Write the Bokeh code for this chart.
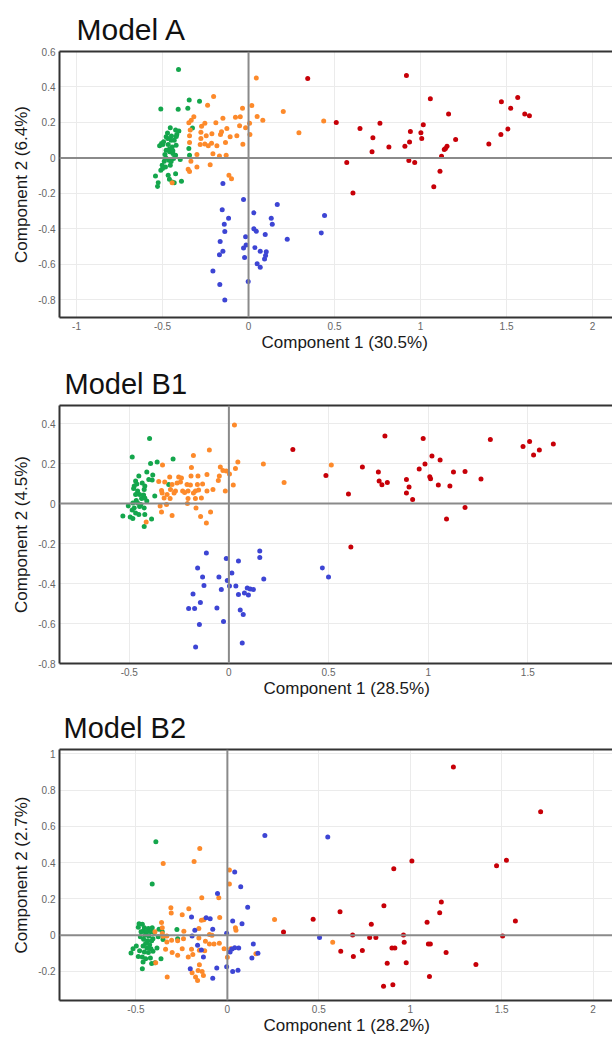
from bokeh.plotting import figure
from bokeh.models import Span, Title, LinearAxis, FixedTicker, ColumnDataSource
from bokeh.layouts import column
from bokeh.embed import file_html
from bokeh.resources import INLINE

# ---------------- data ----------------
groups = ["Group 1", "Group 2", "Group 3", "Group 4"]
group_colors = ["#14a64c", "#fd8a2b", "#3d45d4", "#c70008"]

a_green = [(-0.407,0.499),(-0.510,0.276),(-0.345,0.327),(-0.285,0.319),(-0.409,0.274),(-0.353,0.280),(-0.326,0.168),(-0.455,0.170),(-0.424,0.157),(-0.405,0.151),(-0.471,0.140),(-0.479,0.119),(-0.448,0.123),(-0.494,0.091),(-0.506,0.081),(-0.432,0.100),(-0.467,0.076),(-0.444,0.062),(-0.421,0.072),(-0.479,0.043),(-0.459,0.034),(-0.440,0.025),(-0.424,0.015),(-0.347,0.053),(-0.343,0.015),(-0.397,-0.009),(-0.490,-0.019),(-0.463,-0.013),(-0.436,-0.004),(-0.502,-0.042),(-0.455,-0.042),(-0.510,-0.070),(-0.483,-0.051),(-0.541,-0.102),(-0.467,-0.098),(-0.424,-0.089),(-0.525,-0.140),(-0.529,-0.161),(-0.432,-0.140),(-0.390,-0.132),(-0.444,-0.136),(-0.498,0.076),(-0.417,0.132),(-0.486,0.019),(-0.517,0.068),(-0.46,0.05),(-0.45,0.10),(-0.47,0.11),(-0.44,0.04),(-0.48,0.00),(-0.45,-0.02),(-0.42,0.12),(-0.50,-0.06),(-0.46,-0.12)]
a_orange = [(0.045,0.451),(-0.203,0.346),(-0.238,0.297),(-0.035,0.280),(0.019,0.295),(-0.318,0.232),(-0.333,0.213),(-0.076,0.229),(-0.048,0.232),(0.050,0.234),(0.083,0.213),(0.202,0.261),(-0.347,0.198),(-0.273,0.179),(-0.254,0.195),(-0.190,0.198),(-0.149,0.223),(-0.126,0.166),(-0.052,0.181),(-0.017,0.170),(0.006,0.195),(-0.339,0.157),(-0.277,0.144),(-0.246,0.125),(-0.213,0.136),(-0.163,0.132),(-0.157,0.147),(-0.107,0.119),(-0.068,0.125),(0.008,0.132),(-0.343,0.125),(-0.277,0.110),(-0.281,0.076),(-0.254,0.079),(-0.234,0.068),(-0.215,0.083),(-0.184,0.068),(-0.134,0.087),(-0.033,0.077),(-0.343,0.087),(-0.300,0.019),(-0.207,0.023),(-0.169,0.011),(-0.130,0.015),(-0.335,-0.019),(-0.300,-0.051),(-0.223,-0.038),(-0.351,-0.064),(-0.343,-0.076),(-0.114,-0.098),(-0.099,-0.117),(-0.444,-0.140),(0.293,0.142),(0.437,0.208)]
a_blue = [(-0.149,-0.145),(-0.029,-0.234),(0.167,-0.263),(-0.153,-0.293),(0.031,-0.310),(-0.116,-0.340),(0.132,-0.340),(-0.141,-0.374),(0.138,-0.374),(0.031,-0.400),(0.045,-0.414),(-0.138,-0.415),(0.097,-0.432),(-0.017,-0.444),(0.225,-0.459),(-0.165,-0.472),(-0.014,-0.491),(-0.029,-0.508),(0.037,-0.506),(0.068,-0.527),(0.103,-0.529),(-0.149,-0.527),(-0.169,-0.546),(-0.023,-0.561),(0.099,-0.551),(0.093,-0.570),(0.050,-0.597),(0.068,-0.616),(-0.207,-0.638),(-0.002,-0.697),(-0.167,-0.714),(-0.138,-0.801),(0.442,-0.325),(0.423,-0.423)]
a_red = [(0.344,0.448),(0.918,0.465),(1.057,0.334),(1.470,0.317),(1.565,0.340),(1.524,0.280),(1.163,0.248),(1.606,0.248),(1.633,0.238),(0.510,0.200),(0.764,0.195),(0.648,0.166),(1.016,0.187),(0.941,0.149),(1.002,0.142),(1.508,0.163),(0.723,0.113),(1.007,0.110),(1.204,0.104),(1.467,0.132),(1.397,0.079),(0.936,0.089),(0.816,0.061),(0.909,0.065),(1.154,0.066),(1.145,0.053),(1.138,0.048),(0.718,0.034),(1.122,0.010),(0.571,-0.026),(0.932,-0.015),(0.966,-0.026),(1.113,-0.075),(1.077,-0.162),(0.607,-0.198)]

b1_green = [(-0.398,0.325),(-0.485,0.232),(-0.280,0.223),(-0.393,0.200),(-0.360,0.208),(-0.412,0.157),(-0.382,0.142),(-0.452,0.137),(-0.385,0.117),(-0.468,0.112),(-0.462,0.098),(-0.475,0.087),(-0.478,0.075),(-0.435,0.103),(-0.422,0.087),(-0.425,0.070),(-0.458,0.062),(-0.468,0.045),(-0.448,0.045),(-0.428,0.042),(-0.438,0.025),(-0.422,0.028),(-0.412,0.012),(-0.465,0.015),(-0.482,0.003),(-0.458,0.002),(-0.442,-0.005),(-0.505,-0.013),(-0.475,-0.022),(-0.448,-0.015),(-0.425,-0.022),(-0.485,-0.032),(-0.468,-0.047),(-0.452,-0.055),(-0.532,-0.063),(-0.495,-0.068),(-0.482,-0.075),(-0.422,-0.055),(-0.388,-0.077),(-0.425,-0.115),(-0.302,0.095),(-0.372,0.037),(-0.402,0.120)]
b1_orange = [(0.028,0.393),(-0.098,0.267),(-0.178,0.240),(-0.333,0.193),(-0.188,0.180),(-0.110,0.145),(-0.043,0.182),(-0.030,0.165),(-0.013,0.162),(0.003,0.148),(0.045,0.208),(0.033,0.175),(0.173,0.198),(0.277,0.105),(-0.048,0.137),(-0.053,0.115),(0.022,0.092),(-0.018,0.062),(-0.190,0.137),(-0.155,0.137),(-0.252,0.132),(-0.238,0.128),(-0.297,0.132),(-0.352,0.110),(-0.322,0.107),(-0.285,0.095),(-0.260,0.103),(-0.243,0.108),(-0.210,0.095),(-0.193,0.092),(-0.158,0.095),(-0.132,0.098),(-0.110,0.062),(-0.080,0.070),(-0.152,0.067),(-0.168,0.062),(-0.205,0.062),(-0.232,0.062),(-0.268,0.062),(-0.293,0.070),(-0.338,0.065),(-0.335,0.053),(-0.310,0.045),(-0.275,0.052),(-0.222,0.055),(-0.178,0.053),(-0.205,0.025),(-0.168,0.025),(-0.138,0.028),(-0.295,0.025),(-0.325,0.028),(-0.345,-0.013),(-0.313,-0.005),(-0.208,0.000),(-0.165,-0.023),(-0.092,-0.042),(-0.338,-0.042),(-0.285,-0.060),(-0.142,-0.065),(-0.113,-0.098),(-0.415,-0.092),(0.514,0.192)]
b1_blue = [(-0.113,-0.248),(0.155,-0.237),(-0.013,-0.275),(0.048,-0.288),(0.155,-0.270),(-0.157,-0.322),(0.015,-0.348),(-0.132,-0.368),(-0.050,-0.368),(0.175,-0.378),(-0.008,-0.385),(-0.125,-0.410),(0.003,-0.413),(0.035,-0.413),(0.092,-0.422),(0.107,-0.428),(0.123,-0.430),(-0.180,-0.452),(-0.038,-0.430),(0.048,-0.455),(0.078,-0.447),(0.098,-0.458),(-0.143,-0.495),(-0.202,-0.525),(-0.172,-0.525),(-0.060,-0.522),(0.057,-0.533),(0.072,-0.555),(-0.027,-0.590),(-0.148,-0.605),(0.067,-0.697),(-0.167,-0.718),(0.469,-0.322),(0.500,-0.368)]
b1_red = [(0.321,0.270),(0.783,0.337),(0.975,0.325),(1.312,0.320),(1.509,0.310),(1.476,0.285),(1.558,0.267),(1.628,0.298),(1.529,0.243),(1.019,0.238),(1.060,0.218),(0.984,0.198),(0.955,0.173),(0.670,0.182),(0.750,0.158),(0.487,0.140),(1.127,0.157),(1.185,0.160),(1.265,0.122),(1.008,0.134),(1.012,0.124),(0.891,0.120),(0.754,0.113),(0.795,0.105),(0.768,0.094),(1.051,0.092),(1.109,0.087),(0.904,0.083),(0.891,0.053),(0.600,0.048),(0.922,0.020),(1.185,-0.020),(1.092,-0.078),(0.612,-0.217)]

b2_green = [(-0.391,0.515),(-0.411,0.283),(-0.483,0.063),(-0.465,0.061),(-0.487,0.044),(-0.454,0.041),(-0.432,0.037),(-0.411,0.041),(-0.374,0.033),(-0.356,0.019),(-0.276,0.031),(-0.461,0.022),(-0.440,0.019),(-0.418,0.019),(-0.400,0.015),(-0.450,0.000),(-0.429,-0.004),(-0.476,-0.009),(-0.407,-0.019),(-0.378,-0.009),(-0.458,-0.022),(-0.436,-0.030),(-0.414,-0.030),(-0.352,-0.024),(-0.447,-0.046),(-0.425,-0.052),(-0.498,-0.059),(-0.461,-0.059),(-0.440,-0.070),(-0.418,-0.074),(-0.385,-0.070),(-0.516,-0.074),(-0.480,-0.085),(-0.454,-0.093),(-0.432,-0.096),(-0.407,-0.089),(-0.527,-0.098),(-0.487,-0.117),(-0.465,-0.120),(-0.447,-0.130),(-0.421,-0.126),(-0.363,-0.130),(-0.396,-0.152),(-0.461,-0.148),(-0.414,-0.156),(-0.465,-0.185),(-0.272,-0.019),(-0.472,0.019)]
b2_orange = [(-0.151,0.478),(-0.351,0.396),(-0.182,0.406),(0.011,0.359),(0.011,0.283),(-0.140,0.207),(-0.047,0.206),(-0.309,0.152),(-0.211,0.146),(-0.307,0.122),(-0.247,0.113),(-0.142,0.083),(-0.129,0.085),(-0.360,0.070),(-0.042,0.098),(-0.356,0.041),(-0.396,0.019),(-0.238,0.022),(-0.156,0.037),(0.044,0.041),(0.047,0.028),(0.258,0.087),(-0.305,-0.028),(-0.331,-0.037),(-0.272,-0.031),(-0.240,-0.019),(-0.156,-0.015),(-0.098,0.004),(-0.084,0.000),(-0.120,-0.033),(-0.098,-0.048),(-0.073,-0.048),(-0.044,-0.044),(-0.018,-0.074),(0.018,-0.074),(-0.338,-0.078),(-0.302,-0.096),(-0.272,-0.111),(-0.247,-0.074),(-0.196,-0.078),(-0.153,-0.083),(-0.214,-0.120),(-0.189,-0.107),(-0.124,-0.085),(0.000,-0.122),(0.156,-0.102),(-0.153,-0.163),(-0.160,-0.194),(-0.193,-0.207),(-0.174,-0.231),(-0.163,-0.250),(-0.138,-0.200),(-0.131,-0.222),(-0.392,-0.152),(-0.329,-0.231),(-0.356,0.009),(-0.352,-0.006),(-0.331,-0.004),(0.576,-0.039)]
b2_blue = [(0.205,0.550),(0.040,0.348),(0.073,0.267),(-0.054,0.230),(0.111,0.154),(-0.196,0.100),(-0.116,0.096),(-0.094,0.091),(0.029,0.078),(0.080,0.063),(-0.080,0.033),(-0.178,0.028),(-0.193,-0.004),(-0.004,0.011),(-0.163,-0.056),(-0.142,-0.081),(-0.131,-0.120),(0.025,-0.076),(0.040,-0.069),(0.062,-0.070),(0.015,-0.093),(0.142,-0.048),(0.167,-0.100),(0.134,-0.126),(-0.004,-0.174),(0.029,-0.200),(0.058,-0.193),(-0.058,-0.181),(-0.080,-0.237),(-0.203,-0.185),(0.549,0.541),(0.504,-0.013)]
b2_red = [(1.236,0.927),(1.713,0.681),(1.009,0.409),(1.526,0.414),(1.472,0.383),(0.910,0.366),(1.170,0.183),(1.161,0.124),(0.856,0.162),(1.575,0.079),(1.092,0.072),(0.469,0.088),(0.616,0.129),(0.307,0.018),(0.787,0.061),(0.685,0.001),(0.778,-0.012),(0.812,-0.012),(0.963,0.001),(1.505,-0.004),(0.967,-0.039),(1.099,-0.049),(1.110,-0.049),(0.620,-0.088),(0.738,-0.084),(0.689,-0.117),(0.900,-0.071),(0.916,-0.071),(1.196,-0.095),(0.874,-0.154),(0.978,-0.152),(1.359,-0.162),(1.105,-0.228),(0.854,-0.282),(0.905,-0.273)]

a_xticks = [-1, -0.5, 0, 0.5, 1, 1.5, 2]
a_yticks = [-0.8, -0.6, -0.4, -0.2, 0, 0.2, 0.4, 0.6]
b1_xticks = [-0.5, 0, 0.5, 1, 1.5]
b1_yticks = [-0.8, -0.6, -0.4, -0.2, 0, 0.2, 0.4]
b2_xticks = [-0.5, 0, 0.5, 1, 1.5, 2]
b2_yticks = [-0.2, 0, 0.2, 0.4, 0.6, 0.8, 1]

FONT = "Liberation Sans"


def lbl(v):
    return "%g" % v


def panel(title, title_size, title_offset, xlabel, xlabel_offset, ylabel, xr, yr,
          xticks, yticks, height, b_top, b_bottom, b_left, data):
    p = figure(width=612, height=height, x_range=xr, y_range=yr,
               output_backend="svg", toolbar_location=None,
               min_border_left=b_left, min_border_right=0,
               min_border_top=b_top, min_border_bottom=b_bottom)
    p.outline_line_color = None
    p.background_fill_color = "white"
    p.border_fill_color = "white"

    p.title.text = title
    p.title.text_font = FONT
    p.title.text_font_size = title_size
    p.title.text_font_style = "normal"
    p.title.text_color = "#111111"
    p.title.align = "left"
    p.title.offset = title_offset
    p.title.standoff = 11

    xa = p.xaxis[0]
    ya = p.yaxis[0]
    for ax, ticks in ((xa, xticks), (ya, yticks)):
        ax.ticker = FixedTicker(ticks=ticks)
        ax.major_label_overrides = {t: lbl(t) for t in ticks}
        ax.major_tick_line_color = None
        ax.minor_tick_line_color = None
        ax.major_tick_out = 0
        ax.major_tick_in = 0
        ax.major_label_standoff = 4
        ax.major_label_text_font = FONT
        ax.major_label_text_font_size = "10px"
        ax.major_label_text_color = "#666666"
        ax.axis_line_color = "#333333"
        ax.axis_line_width = 2
    ya.axis_label = ylabel
    ya.axis_label_text_font = FONT
    ya.axis_label_text_font_size = "17px"
    ya.axis_label_text_font_style = "normal"
    ya.axis_label_text_color = "#1a1a1a"
    ya.axis_label_standoff = 4

    p.xgrid.ticker = FixedTicker(ticks=xticks)
    p.ygrid.ticker = FixedTicker(ticks=yticks)
    p.xgrid.grid_line_color = "#ebebeb"
    p.ygrid.grid_line_color = "#ebebeb"

    top = LinearAxis(ticker=FixedTicker(ticks=[]), major_label_text_font_size="0px",
                     major_tick_line_color=None, minor_tick_line_color=None,
                     major_tick_out=0, major_tick_in=0, major_label_standoff=0,
                     axis_line_color="#333333", axis_line_width=2)
    p.add_layout(top, "above")

    xt = Title(text=xlabel, align="left", offset=xlabel_offset, text_font=FONT,
               text_font_size="17px", text_font_style="normal", text_color="#1a1a1a",
               standoff=-3)
    p.add_layout(xt, "below")

    p.add_layout(Span(location=0, dimension="height", line_color="#8a8a8a", line_width=2))
    p.add_layout(Span(location=0, dimension="width", line_color="#8a8a8a", line_width=2))

    for pts, color in zip(data, group_colors):
        src = ColumnDataSource(dict(x=[q[0] for q in pts], y=[q[1] for q in pts]))
        p.scatter("x", "y", source=src, size=5, fill_color=color, line_color=None)
    return p


pa = panel("Model A", "30px", 17, "Component 1 (30.5%)", 202, "Component 2 (6.4%)",
           (-1.099, 2.116), (-0.90, 0.60), a_xticks, a_yticks,
           356, 51, 39, 59, [a_green, a_orange, a_blue, a_red])
pb1 = panel("Model B1", "29px", 5, "Component 1 (28.5%)", 204, "Component 2 (4.5%)",
            (-0.85, 1.925), (-0.80, 0.49), b1_xticks, b1_yticks,
            344, 49, 37, 57, [b1_green, b1_orange, b1_blue, b1_red])
pb2 = panel("Model B2", "29px", 4, "Component 1 (28.2%)", 204, "Component 2 (2.7%)",
            (-0.918, 2.106), (-0.36, 1.024), b2_xticks, b2_yticks,
            340, 49, 40, 57, [b2_green, b2_orange, b2_blue, b2_red])

layout = column(pa, pb1, pb2, spacing=0)
open("out.html", "w").write(file_html(layout, INLINE))
